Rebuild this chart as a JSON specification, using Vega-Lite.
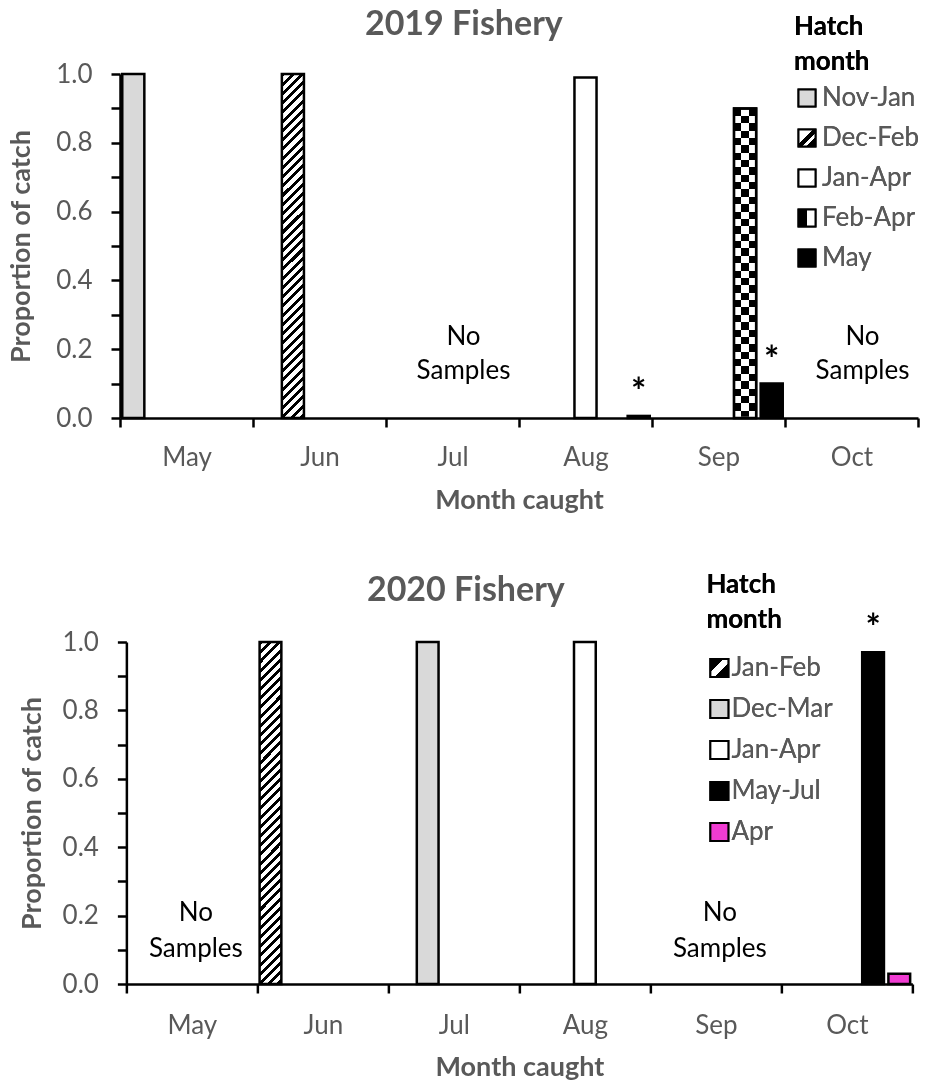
{
  "$schema": "https://vega.github.io/schema/vega-lite/v6.json",
  "background": "white",
  "padding": {"left": 7, "top": 8, "right": 5, "bottom": 5},
  "spacing": 59,
  "center": true,
  "params": [
    {"name": "hatchFill", "value": {"gradient": "linear", "x1": 0, "y1": 0, "x2": 0.0684, "y2": 1.07, "stops": [
      {"offset":0,"color":"#000"},{"offset":0.011,"color":"#000"},{"offset":0.011,"color":"#fff"},{"offset":0.025,"color":"#fff"},
      {"offset":0.025,"color":"#000"},{"offset":0.036,"color":"#000"},{"offset":0.036,"color":"#fff"},{"offset":0.05,"color":"#fff"},
      {"offset":0.05,"color":"#000"},{"offset":0.061,"color":"#000"},{"offset":0.061,"color":"#fff"},{"offset":0.075,"color":"#fff"},
      {"offset":0.075,"color":"#000"},{"offset":0.086,"color":"#000"},{"offset":0.086,"color":"#fff"},{"offset":0.1,"color":"#fff"},
      {"offset":0.1,"color":"#000"},{"offset":0.111,"color":"#000"},{"offset":0.111,"color":"#fff"},{"offset":0.125,"color":"#fff"},
      {"offset":0.125,"color":"#000"},{"offset":0.136,"color":"#000"},{"offset":0.136,"color":"#fff"},{"offset":0.15,"color":"#fff"},
      {"offset":0.15,"color":"#000"},{"offset":0.161,"color":"#000"},{"offset":0.161,"color":"#fff"},{"offset":0.175,"color":"#fff"},
      {"offset":0.175,"color":"#000"},{"offset":0.186,"color":"#000"},{"offset":0.186,"color":"#fff"},{"offset":0.2,"color":"#fff"},
      {"offset":0.2,"color":"#000"},{"offset":0.211,"color":"#000"},{"offset":0.211,"color":"#fff"},{"offset":0.225,"color":"#fff"},
      {"offset":0.225,"color":"#000"},{"offset":0.236,"color":"#000"},{"offset":0.236,"color":"#fff"},{"offset":0.25,"color":"#fff"},
      {"offset":0.25,"color":"#000"},{"offset":0.261,"color":"#000"},{"offset":0.261,"color":"#fff"},{"offset":0.275,"color":"#fff"},
      {"offset":0.275,"color":"#000"},{"offset":0.286,"color":"#000"},{"offset":0.286,"color":"#fff"},{"offset":0.3,"color":"#fff"},
      {"offset":0.3,"color":"#000"},{"offset":0.311,"color":"#000"},{"offset":0.311,"color":"#fff"},{"offset":0.325,"color":"#fff"},
      {"offset":0.325,"color":"#000"},{"offset":0.336,"color":"#000"},{"offset":0.336,"color":"#fff"},{"offset":0.35,"color":"#fff"},
      {"offset":0.35,"color":"#000"},{"offset":0.361,"color":"#000"},{"offset":0.361,"color":"#fff"},{"offset":0.375,"color":"#fff"},
      {"offset":0.375,"color":"#000"},{"offset":0.386,"color":"#000"},{"offset":0.386,"color":"#fff"},{"offset":0.4,"color":"#fff"},
      {"offset":0.4,"color":"#000"},{"offset":0.411,"color":"#000"},{"offset":0.411,"color":"#fff"},{"offset":0.425,"color":"#fff"},
      {"offset":0.425,"color":"#000"},{"offset":0.436,"color":"#000"},{"offset":0.436,"color":"#fff"},{"offset":0.45,"color":"#fff"},
      {"offset":0.45,"color":"#000"},{"offset":0.461,"color":"#000"},{"offset":0.461,"color":"#fff"},{"offset":0.475,"color":"#fff"},
      {"offset":0.475,"color":"#000"},{"offset":0.486,"color":"#000"},{"offset":0.486,"color":"#fff"},{"offset":0.5,"color":"#fff"},
      {"offset":0.5,"color":"#000"},{"offset":0.511,"color":"#000"},{"offset":0.511,"color":"#fff"},{"offset":0.525,"color":"#fff"},
      {"offset":0.525,"color":"#000"},{"offset":0.536,"color":"#000"},{"offset":0.536,"color":"#fff"},{"offset":0.55,"color":"#fff"},
      {"offset":0.55,"color":"#000"},{"offset":0.561,"color":"#000"},{"offset":0.561,"color":"#fff"},{"offset":0.575,"color":"#fff"},
      {"offset":0.575,"color":"#000"},{"offset":0.586,"color":"#000"},{"offset":0.586,"color":"#fff"},{"offset":0.6,"color":"#fff"},
      {"offset":0.6,"color":"#000"},{"offset":0.611,"color":"#000"},{"offset":0.611,"color":"#fff"},{"offset":0.625,"color":"#fff"},
      {"offset":0.625,"color":"#000"},{"offset":0.636,"color":"#000"},{"offset":0.636,"color":"#fff"},{"offset":0.65,"color":"#fff"},
      {"offset":0.65,"color":"#000"},{"offset":0.661,"color":"#000"},{"offset":0.661,"color":"#fff"},{"offset":0.675,"color":"#fff"},
      {"offset":0.675,"color":"#000"},{"offset":0.686,"color":"#000"},{"offset":0.686,"color":"#fff"},{"offset":0.7,"color":"#fff"},
      {"offset":0.7,"color":"#000"},{"offset":0.711,"color":"#000"},{"offset":0.711,"color":"#fff"},{"offset":0.725,"color":"#fff"},
      {"offset":0.725,"color":"#000"},{"offset":0.736,"color":"#000"},{"offset":0.736,"color":"#fff"},{"offset":0.75,"color":"#fff"},
      {"offset":0.75,"color":"#000"},{"offset":0.761,"color":"#000"},{"offset":0.761,"color":"#fff"},{"offset":0.775,"color":"#fff"},
      {"offset":0.775,"color":"#000"},{"offset":0.786,"color":"#000"},{"offset":0.786,"color":"#fff"},{"offset":0.8,"color":"#fff"},
      {"offset":0.8,"color":"#000"},{"offset":0.811,"color":"#000"},{"offset":0.811,"color":"#fff"},{"offset":0.825,"color":"#fff"},
      {"offset":0.825,"color":"#000"},{"offset":0.836,"color":"#000"},{"offset":0.836,"color":"#fff"},{"offset":0.85,"color":"#fff"},
      {"offset":0.85,"color":"#000"},{"offset":0.861,"color":"#000"},{"offset":0.861,"color":"#fff"},{"offset":0.875,"color":"#fff"},
      {"offset":0.875,"color":"#000"},{"offset":0.886,"color":"#000"},{"offset":0.886,"color":"#fff"},{"offset":0.9,"color":"#fff"},
      {"offset":0.9,"color":"#000"},{"offset":0.911,"color":"#000"},{"offset":0.911,"color":"#fff"},{"offset":0.925,"color":"#fff"},
      {"offset":0.925,"color":"#000"},{"offset":0.936,"color":"#000"},{"offset":0.936,"color":"#fff"},{"offset":0.95,"color":"#fff"},
      {"offset":0.95,"color":"#000"},{"offset":0.961,"color":"#000"},{"offset":0.961,"color":"#fff"},{"offset":0.975,"color":"#fff"},
      {"offset":0.975,"color":"#000"},{"offset":0.986,"color":"#000"},{"offset":0.986,"color":"#fff"},{"offset":1,"color":"#fff"}
    ]}},
    {"name": "checkCols", "value": {"gradient": "linear", "x1": 0, "y1": 0, "x2": 1, "y2": 0, "stops": [
      {"offset":0,"color":"#000"},{"offset":0.333,"color":"#000"},{"offset":0.333,"color":"#fff"},{"offset":0.667,"color":"#fff"},{"offset":0.667,"color":"#000"},{"offset":1,"color":"#000"}
    ]}},
    {"name": "checkRows", "value": {"gradient": "linear", "x1": 0.5, "y1": 0, "x2": 0.5, "y2": 1, "stops": [
      {"offset":0,"color":"#000"},{"offset":0.0238,"color":"#000"},{"offset":0.0238,"color":"#fff"},{"offset":0.0476,"color":"#fff"},
      {"offset":0.0476,"color":"#000"},{"offset":0.0714,"color":"#000"},{"offset":0.0714,"color":"#fff"},{"offset":0.0952,"color":"#fff"},
      {"offset":0.0952,"color":"#000"},{"offset":0.119,"color":"#000"},{"offset":0.119,"color":"#fff"},{"offset":0.1429,"color":"#fff"},
      {"offset":0.1429,"color":"#000"},{"offset":0.1667,"color":"#000"},{"offset":0.1667,"color":"#fff"},{"offset":0.1905,"color":"#fff"},
      {"offset":0.1905,"color":"#000"},{"offset":0.2143,"color":"#000"},{"offset":0.2143,"color":"#fff"},{"offset":0.2381,"color":"#fff"},
      {"offset":0.2381,"color":"#000"},{"offset":0.2619,"color":"#000"},{"offset":0.2619,"color":"#fff"},{"offset":0.2857,"color":"#fff"},
      {"offset":0.2857,"color":"#000"},{"offset":0.3095,"color":"#000"},{"offset":0.3095,"color":"#fff"},{"offset":0.3333,"color":"#fff"},
      {"offset":0.3333,"color":"#000"},{"offset":0.3571,"color":"#000"},{"offset":0.3571,"color":"#fff"},{"offset":0.381,"color":"#fff"},
      {"offset":0.381,"color":"#000"},{"offset":0.4048,"color":"#000"},{"offset":0.4048,"color":"#fff"},{"offset":0.4286,"color":"#fff"},
      {"offset":0.4286,"color":"#000"},{"offset":0.4524,"color":"#000"},{"offset":0.4524,"color":"#fff"},{"offset":0.4762,"color":"#fff"},
      {"offset":0.4762,"color":"#000"},{"offset":0.5,"color":"#000"},{"offset":0.5,"color":"#fff"},{"offset":0.5238,"color":"#fff"},
      {"offset":0.5238,"color":"#000"},{"offset":0.5476,"color":"#000"},{"offset":0.5476,"color":"#fff"},{"offset":0.5714,"color":"#fff"},
      {"offset":0.5714,"color":"#000"},{"offset":0.5952,"color":"#000"},{"offset":0.5952,"color":"#fff"},{"offset":0.619,"color":"#fff"},
      {"offset":0.619,"color":"#000"},{"offset":0.6429,"color":"#000"},{"offset":0.6429,"color":"#fff"},{"offset":0.6667,"color":"#fff"},
      {"offset":0.6667,"color":"#000"},{"offset":0.6905,"color":"#000"},{"offset":0.6905,"color":"#fff"},{"offset":0.7143,"color":"#fff"},
      {"offset":0.7143,"color":"#000"},{"offset":0.7381,"color":"#000"},{"offset":0.7381,"color":"#fff"},{"offset":0.7619,"color":"#fff"},
      {"offset":0.7619,"color":"#000"},{"offset":0.7857,"color":"#000"},{"offset":0.7857,"color":"#fff"},{"offset":0.8095,"color":"#fff"},
      {"offset":0.8095,"color":"#000"},{"offset":0.8333,"color":"#000"},{"offset":0.8333,"color":"#fff"},{"offset":0.8571,"color":"#fff"},
      {"offset":0.8571,"color":"#000"},{"offset":0.881,"color":"#000"},{"offset":0.881,"color":"#fff"},{"offset":0.9048,"color":"#fff"},
      {"offset":0.9048,"color":"#000"},{"offset":0.9286,"color":"#000"},{"offset":0.9286,"color":"#fff"},{"offset":0.9524,"color":"#fff"},
      {"offset":0.9524,"color":"#000"},{"offset":0.9762,"color":"#000"},{"offset":0.9762,"color":"#fff"},{"offset":1,"color":"#fff"}
    ]}},
    {"name": "hatchIcon", "value": {"gradient": "linear", "x1": 0, "y1": 0, "x2": 1, "y2": 1, "stops": [
      {"offset":0,"color":"#fff"},{"offset":0.42,"color":"#fff"},{"offset":0.42,"color":"#000"},{"offset":0.6,"color":"#000"},{"offset":0.6,"color":"#fff"},{"offset":0.72,"color":"#fff"},{"offset":0.72,"color":"#000"},{"offset":1,"color":"#000"}
    ]}},
    {"name": "hatchIcon2", "value": {"gradient": "linear", "x1": 0, "y1": 0, "x2": 1, "y2": 1, "stops": [
      {"offset":0,"color":"#000"},{"offset":0.36,"color":"#000"},{"offset":0.36,"color":"#fff"},{"offset":0.62,"color":"#fff"},{"offset":0.62,"color":"#000"},{"offset":1,"color":"#000"}
    ]}},
    {"name": "checkIcon", "value": {"gradient": "linear", "x1": 0, "y1": 0, "x2": 1, "y2": 0, "stops": [
      {"offset":0,"color":"#000"},{"offset":0.5,"color":"#000"},{"offset":0.5,"color":"#fff"},{"offset":1,"color":"#fff"}
    ]}}
  ],
  "config": {
    "font": "Lato",
    "view": {"stroke": null},
    "axis": {
      "grid": false,
      "domainColor": "black",
      "domainWidth": 2.5,
      "tickColor": "black",
      "tickWidth": 2.5,
      "tickSize": 9,
      "labelFont": "Lato",
      "labelFontSize": 26,
      "labelColor": "#595959",
      "titleFont": "Lato",
      "titleFontSize": 27,
      "titleFontWeight": "bold",
      "titleColor": "#595959"
    },
    "title": {"font": "Lato", "fontSize": 34, "fontWeight": "bold", "color": "#595959", "anchor": "middle", "frame": "bounds"},
    "legend": {
      "titleFont": "Lato", "titleFontSize": 26, "titleFontWeight": "bold", "titleColor": "black", "titleLineHeight": 35,
      "labelFont": "Lato", "labelFontSize": 26, "labelColor": "#595959",
      "symbolType": "square", "symbolStrokeColor": "black", "symbolStrokeWidth": 2
    }
  },
  "resolve": {
    "scale": {"x": "independent", "y": "independent", "xOffset": "independent", "fill": "independent", "stroke": "independent"},
    "legend": {"fill": "independent", "stroke": "independent"}
  },
  "vconcat": [
    {
      "width": 798,
      "height": 344,
      "title": {"text": "2019 Fishery", "offset": -28},
      "data": {"values": [
        {"month": "May", "hatchMonth": "Nov-Jan", "proportion": 1.0},
        {"month": "Jun", "hatchMonth": "Dec-Feb", "proportion": 1.0},
        {"month": "Aug", "hatchMonth": "Jan-Apr", "proportion": 0.99},
        {"month": "Aug", "hatchMonth": "May", "proportion": 0.006, "sig": "*"},
        {"month": "Sep", "hatchMonth": "Feb-Apr", "proportion": 0.9},
        {"month": "Sep", "hatchMonth": "May", "proportion": 0.1, "sig": "*"},
        {"month": "Jul", "note": "No", "proportion": 0},
        {"month": "Jul", "note": "Samples", "proportion": 0},
        {"month": "Oct", "note": "No", "proportion": 0},
        {"month": "Oct", "note": "Samples", "proportion": 0}
      ]},
      "encoding": {
        "x": {"field": "month", "type": "nominal", "title": "Month caught",
              "scale": {"domain": ["May", "Jun", "Jul", "Aug", "Sep", "Oct"], "paddingInner": 0, "paddingOuter": 0},
              "axis": {"labelAngle": 0, "tickBand": "extent", "labelPadding": 17, "titlePadding": 17}},
        "y": {"field": "proportion", "type": "quantitative", "title": "Proportion of catch",
              "scale": {"domain": [0, 1], "nice": false},
              "axis": {"values": [0, 0.1, 0.2, 0.3, 0.4, 0.5, 0.6, 0.7, 0.8, 0.9, 1],
                       "labelExpr": "round(datum.value*10)%2==0 ? format(datum.value,'.1f') : ''",
                       "labelPadding": 19, "titlePadding": 20}}
      },
      "resolve": {"scale": {"fill": "independent"}},
      "layer": [
        {
          "transform": [{"filter": "isValid(datum.hatchMonth)"}],
          "mark": {"type": "bar", "stroke": "black", "strokeWidth": 2.5},
          "encoding": {
            "xOffset": {"field": "hatchMonth", "type": "nominal",
                        "scale": {"domain": ["Nov-Jan", "Dec-Feb", "Jan-Apr", "Feb-Apr", "May"], "paddingInner": 0.17, "paddingOuter": 0.085}},
            "fill": {"field": "hatchMonth", "type": "nominal", "legend": null,
                     "scale": {"domain": ["Nov-Jan", "Dec-Feb", "Jan-Apr", "Feb-Apr", "May"],
                               "range": ["#d9d9d9", {"expr": "hatchFill"}, "white", {"expr": "checkCols"}, "black"]}}
          }
        },
        {
          "transform": [{"filter": "datum.hatchMonth === 'Feb-Apr'"}],
          "mark": {"type": "bar", "fill": {"expr": "checkRows"}, "blend": "difference", "strokeWidth": 0},
          "encoding": {
            "xOffset": {"field": "hatchMonth", "type": "nominal",
                        "scale": {"domain": ["Nov-Jan", "Dec-Feb", "Jan-Apr", "Feb-Apr", "May"], "paddingInner": 0.17, "paddingOuter": 0.085}}
          }
        },
        {
          "transform": [{"filter": "datum.hatchMonth === 'Feb-Apr'"}],
          "mark": {"type": "bar", "fill": "transparent", "stroke": "black", "strokeWidth": 2.5},
          "encoding": {
            "xOffset": {"field": "hatchMonth", "type": "nominal",
                        "scale": {"domain": ["Nov-Jan", "Dec-Feb", "Jan-Apr", "Feb-Apr", "May"], "paddingInner": 0.17, "paddingOuter": 0.085}}
          }
        },
        {
          "transform": [{"filter": "false"}],
          "mark": {"type": "bar", "strokeWidth": 2},
          "encoding": {
            "xOffset": {"field": "hatchMonth", "type": "nominal",
                        "scale": {"domain": ["Nov-Jan", "Dec-Feb", "Jan-Apr", "Feb-Apr", "May"], "paddingInner": 0.17, "paddingOuter": 0.085}},
            "fill": {"field": "hatchMonth", "type": "nominal",
                     "scale": {"domain": ["Nov-Jan", "Dec-Feb", "Jan-Apr", "Feb-Apr", "May"],
                               "range": ["#d9d9d9", {"expr": "hatchIcon"}, "white", {"expr": "checkIcon"}, "black"]},
                     "legend": {"title": ["Hatch", "month"], "orient": "none", "legendX": 674, "legendY": -60,
                                "titlePadding": 10, "rowPadding": 14, "symbolSize": 289, "labelOffset": 2}},
            "stroke": {"field": "hatchMonth", "type": "nominal",
                       "scale": {"domain": ["Nov-Jan", "Dec-Feb", "Jan-Apr", "Feb-Apr", "May"],
                                 "range": ["black", "black", "black", "black", "black"]},
                       "legend": {"title": ["Hatch", "month"], "orient": "none", "legendX": 674, "legendY": -60,
                                  "titlePadding": 10, "rowPadding": 14, "symbolSize": 289, "labelOffset": 2}}
          }
        },
        {
          "transform": [{"filter": "isValid(datum.sig)"}],
          "mark": {"type": "text", "fontSize": 36, "fontWeight": "bold", "color": "black", "baseline": "alphabetic", "dy": -12},
          "encoding": {
            "xOffset": {"field": "hatchMonth", "type": "nominal",
                        "scale": {"domain": ["Nov-Jan", "Dec-Feb", "Jan-Apr", "Feb-Apr", "May"], "paddingInner": 0.17, "paddingOuter": 0.085}},
            "text": {"field": "sig", "type": "nominal"}
          }
        },
        {
          "transform": [{"filter": "datum.note === 'No'"}],
          "mark": {"type": "text", "fontSize": 26, "color": "black", "baseline": "middle", "dx": 11, "dy": -81},
          "encoding": {
            "text": {"field": "note", "type": "nominal"}
          }
        },
        {
          "transform": [{"filter": "datum.note === 'Samples'"}],
          "mark": {"type": "text", "fontSize": 26, "color": "black", "baseline": "middle", "dx": 11, "dy": -47},
          "encoding": {
            "text": {"field": "note", "type": "nominal"}
          }
        }
      ]
    },
    {
      "width": 786,
      "height": 342,
      "title": {"text": "2020 Fishery", "offset": -36},
      "data": {"values": [
        {"month": "Jun", "hatchMonth": "Jan-Feb", "proportion": 1.0},
        {"month": "Jul", "hatchMonth": "Dec-Mar", "proportion": 1.0},
        {"month": "Aug", "hatchMonth": "Jan-Apr", "proportion": 1.0},
        {"month": "Oct", "hatchMonth": "May-Jul", "proportion": 0.97, "sig": "*"},
        {"month": "Oct", "hatchMonth": "Apr", "proportion": 0.03},
        {"month": "May", "note": "No", "proportion": 0},
        {"month": "May", "note": "Samples", "proportion": 0},
        {"month": "Sep", "note": "No", "proportion": 0},
        {"month": "Sep", "note": "Samples", "proportion": 0}
      ]},
      "encoding": {
        "x": {"field": "month", "type": "nominal", "title": "Month caught",
              "scale": {"domain": ["May", "Jun", "Jul", "Aug", "Sep", "Oct"], "paddingInner": 0, "paddingOuter": 0},
              "axis": {"labelAngle": 0, "tickBand": "extent", "labelPadding": 19, "titlePadding": 16}},
        "y": {"field": "proportion", "type": "quantitative", "title": "Proportion of catch",
              "scale": {"domain": [0, 1], "nice": false},
              "axis": {"values": [0, 0.1, 0.2, 0.3, 0.4, 0.5, 0.6, 0.7, 0.8, 0.9, 1],
                       "labelExpr": "round(datum.value*10)%2==0 ? format(datum.value,'.1f') : ''",
                       "labelPadding": 19, "titlePadding": 16}}
      },
      "resolve": {"scale": {"fill": "independent"}},
      "layer": [
        {
          "transform": [{"filter": "isValid(datum.hatchMonth)"}],
          "mark": {"type": "bar", "stroke": "black", "strokeWidth": 2.5},
          "encoding": {
            "xOffset": {"field": "hatchMonth", "type": "nominal",
                        "scale": {"domain": ["Jan-Feb", "Dec-Mar", "Jan-Apr", "May-Jul", "Apr"], "paddingInner": 0.17, "paddingOuter": 0.085}},
            "fill": {"field": "hatchMonth", "type": "nominal", "legend": null,
                     "scale": {"domain": ["Jan-Feb", "Dec-Mar", "Jan-Apr", "May-Jul", "Apr"],
                               "range": [{"expr": "hatchFill"}, "#d9d9d9", "white", "black", "#f03cd2"]}}
          }
        },
        {
          "transform": [{"filter": "false"}],
          "mark": {"type": "bar", "strokeWidth": 2},
          "encoding": {
            "xOffset": {"field": "hatchMonth", "type": "nominal",
                        "scale": {"domain": ["Jan-Feb", "Dec-Mar", "Jan-Apr", "May-Jul", "Apr"], "paddingInner": 0.17, "paddingOuter": 0.085}},
            "fill": {"field": "hatchMonth", "type": "nominal",
                     "scale": {"domain": ["Jan-Feb", "Dec-Mar", "Jan-Apr", "May-Jul", "Apr"],
                               "range": [{"expr": "hatchIcon2"}, "#d9d9d9", "white", "black", "#f03cd2"]},
                     "legend": {"title": ["Hatch", "month"], "orient": "none", "legendX": 580, "legendY": -70,
                                "titlePadding": 22, "rowPadding": 15, "symbolSize": 324, "labelOffset": -1}},
            "stroke": {"field": "hatchMonth", "type": "nominal",
                       "scale": {"domain": ["Jan-Feb", "Dec-Mar", "Jan-Apr", "May-Jul", "Apr"],
                                 "range": ["black", "black", "black", "black", "black"]},
                       "legend": {"title": ["Hatch", "month"], "orient": "none", "legendX": 580, "legendY": -70,
                                  "titlePadding": 22, "rowPadding": 15, "symbolSize": 324, "labelOffset": -1}}
          }
        },
        {
          "transform": [{"filter": "isValid(datum.sig)"}],
          "mark": {"type": "text", "fontSize": 36, "fontWeight": "bold", "color": "black", "baseline": "alphabetic", "dy": -12},
          "encoding": {
            "xOffset": {"field": "hatchMonth", "type": "nominal",
                        "scale": {"domain": ["Jan-Feb", "Dec-Mar", "Jan-Apr", "May-Jul", "Apr"], "paddingInner": 0.17, "paddingOuter": 0.085}},
            "text": {"field": "sig", "type": "nominal"}
          }
        },
        {
          "transform": [{"filter": "datum.note === 'No'"}],
          "mark": {"type": "text", "fontSize": 26, "color": "black", "baseline": "middle", "dx": 4, "dy": -71},
          "encoding": {
            "text": {"field": "note", "type": "nominal"}
          }
        },
        {
          "transform": [{"filter": "datum.note === 'Samples'"}],
          "mark": {"type": "text", "fontSize": 26, "color": "black", "baseline": "middle", "dx": 4, "dy": -35},
          "encoding": {
            "text": {"field": "note", "type": "nominal"}
          }
        }
      ]
    }
  ]
}
